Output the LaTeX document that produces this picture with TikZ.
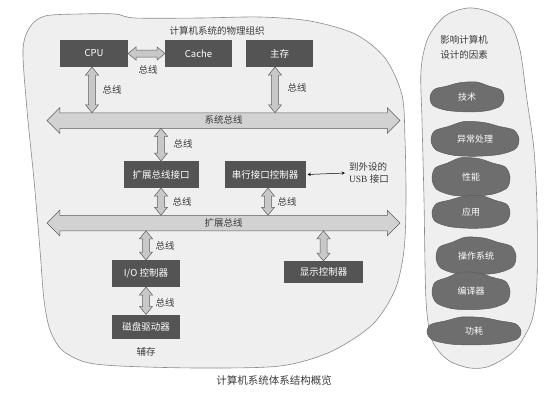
\documentclass[tikz,border=0pt]{standalone}
\usepackage{fontspec}
\setmainfont{Liberation Serif}
\setsansfont{Liberation Sans}
\newfontfamily\cjk{Noto Sans CJK SC}
\usetikzlibrary{calc,shapes.arrows}

\definecolor{boxgray}{HTML}{545454}
\definecolor{arrfill}{HTML}{C8C8C8}
\definecolor{arrline}{HTML}{5C5C5C}
\definecolor{busfill}{HTML}{D2D2D2}
\definecolor{blobfill}{HTML}{EFEFEF}
\definecolor{blobline}{HTML}{8A8A8A}
\definecolor{cloudgray}{HTML}{6E6E6E}
\definecolor{labgray}{HTML}{3A3A3A}

\tikzset{
  fat/.style={draw=arrline, fill=arrfill, line width=0.5pt,
    to path={
      -- ($(\tikztostart)!8pt!(\tikztotarget)!6.5pt!90:(\tikztotarget)$)
      -- ($(\tikztostart)!8pt!(\tikztotarget)!3.5pt!90:(\tikztotarget)$)
      -- ($(\tikztotarget)!8pt!(\tikztostart)!3.5pt!-90:(\tikztostart)$)
      -- ($(\tikztotarget)!8pt!(\tikztostart)!6.5pt!-90:(\tikztostart)$)
      -- (\tikztotarget)
      -- ($(\tikztotarget)!8pt!(\tikztostart)!6.5pt!90:(\tikztostart)$)
      -- ($(\tikztotarget)!8pt!(\tikztostart)!3.5pt!90:(\tikztostart)$)
      -- ($(\tikztostart)!8pt!(\tikztotarget)!3.5pt!-90:(\tikztotarget)$)
      -- ($(\tikztostart)!8pt!(\tikztotarget)!6.5pt!-90:(\tikztotarget)$)
      -- cycle}}
}

% a lumpy cloud: name, x, y, half width, half height, text
\newcommand\blobnode[6]{%
  \draw[cloudy] plot[smooth cycle] coordinates {
    ({#2+(-1)*(#4)},{#3+(0.1)*(#5)}) ({#2+(-0.92)*(#4)},{#3+(-0.45)*(#5)})
    ({#2+(-0.6)*(#4)},{#3+(-0.7)*(#5)}) ({#2+(-0.25)*(#4)},{#3+(-0.97)*(#5)})
    ({#2+(0.2)*(#4)},{#3+(-0.92)*(#5)}) ({#2+(0.55)*(#4)},{#3+(-0.7)*(#5)})
    ({#2+(0.88)*(#4)},{#3+(-0.5)*(#5)}) ({#2+(1)*(#4)},{#3})
    ({#2+(0.92)*(#4)},{#3+(0.55)*(#5)}) ({#2+(0.55)*(#4)},{#3+(0.86)*(#5)})
    ({#2},{#3+(0.96)*(#5)}) ({#2+(-0.5)*(#4)},{#3+(0.9)*(#5)})
    ({#2+(-0.88)*(#4)},{#3+(0.62)*(#5)})};
  \node[cloudtext] (#1) at (#2,#3) {#6};}

\begin{document}
\begin{tikzpicture}[x=1pt, y=-1pt,
  every node/.style={font=\cjk\fontsize{9.5}{11}\selectfont, inner sep=0pt, outer sep=0pt},
  unit/.style={fill=boxgray, text=white, minimum height=27pt},
  bus/.style={double arrow, double arrow head extend=5pt, draw=arrline, fill=busfill,
    line width=0.5pt, minimum height=353pt, text height=8pt, text depth=2pt,
    inner ysep=2.5pt, inner xsep=0pt, text=labgray},
  buslab/.style={text=labgray},
  blob/.style={draw=blobline, fill=blobfill, line width=0.6pt},
  cloudy/.style={fill=cloudgray, draw=arrline, line width=0.5pt},
  cloudtext/.style={text=white, font=\cjk\fontsize{9}{11}\selectfont}]
\useasboundingbox (0,0) rectangle (551,405);

% the two outlines
\draw[blob] plot[smooth cycle] coordinates {(23,50) (30,27) (45,16) (80,14) (115,14)
  (135,18) (200,18) (260,17) (310,21) (355,34) (385,58) (402,95) (405,140) (406,200)
  (404,250) (395,290) (372,325) (330,352) (280,366) (200,368) (120,366) (85,362)
  (62,350) (50,330) (44,300) (40,250) (34,180) (27,110)};
\draw[blob] plot[smooth cycle] coordinates {(421,70) (428,38) (445,16) (468,8) (490,12)
  (510,24) (520,50) (527,100) (534,150) (537,210) (537,280) (532,320) (515,350)
  (490,366) (470,368) (448,360) (432,340) (426,300) (424,200) (422,120)};

\node[text=labgray] (title) at (217,31) {计算机系统的物理组织};

% units
\node[unit, minimum width=68pt] (cpu) at (94,53.5) {CPU};
\node[unit, minimum width=67pt] (cache) at (198.5,53.5) {Cache};
\node[unit, minimum width=67pt] (mem) at (279.5,53.5) {主存};
\node[bus] (sysbus) at (223.5,120.5) {系统总线};
\node[unit, minimum width=75pt] (ebi) at (161,174.5) {扩展总线接口};
\node[unit, minimum width=81pt] (sic) at (265,174.5) {串行接口控制器};
\node[text=labgray, align=left, font=\fontsize{9.5}{12}\selectfont, anchor=west] (usb) at (349,173)
  {{\cjk 到外设的}\\USB {\cjk 接口}};
\node[bus] (extbus) at (223.5,223) {扩展总线};
\node[unit, minimum width=68pt] (io) at (146,273.5) {I/O 控制器};
\node[unit, minimum width=68pt, minimum height=24pt] (disk) at (146,326.5) {磁盘驱动器};
\node[text=labgray] (aux) at (146,352) {辅存};
\node[unit, minimum width=79pt, minimum height=22pt] (disp) at (323.5,272) {显示控制器};

% buses
\draw[fat] (cpu.east) to (cache.west);
\draw[fat] ([xshift=-2pt]cpu.south) to ([xshift=-2pt]cpu.south |- sysbus.north);
\draw[fat] ([xshift=-4.5pt]mem.south) to ([xshift=-4.5pt]mem.south |- sysbus.north);
\draw[fat] (ebi.north |- sysbus.south) to (ebi.north);
\draw[fat] (ebi.south) to (ebi.south |- extbus.north);
\draw[fat] ([xshift=3pt]sic.south) to ([xshift=3pt]sic.south |- extbus.north);
\draw[fat] (io.north |- extbus.south) to (io.north);
\draw[fat] (disp.north |- extbus.south) to (disp.north);
\draw[fat] (io.south) to (disk.north);
\draw[<->, >=stealth, line width=0.5pt] ([xshift=2pt]sic.east) -- ([xshift=-4pt]usb.west);

\node[buslab] (l1) at (148,70) {总线};
\node[buslab] (l2) at (112,90) {总线};
\node[buslab] (l3) at (297,88) {总线};
\node[buslab] (l4) at (183,144) {总线};
\node[buslab] (l5) at (182,202) {总线};
\node[buslab] (l6) at (287,202) {总线};
\node[buslab] (l7) at (165,246) {总线};
\node[buslab] (l8) at (165,303) {总线};

% factors
\node[text=labgray, align=center, font=\cjk\fontsize{9.5}{15}\selectfont] (fac) at (464,47.5)
  {影响计算机\\设计的因素};
\blobnode{tech}{467}{97}{-37}{15.5}{技术}
\blobnode{exc}{475}{139}{44}{18}{异常处理}
\blobnode{perf}{471}{177}{39}{20}{性能}
\blobnode{app}{471}{212}{-39}{17}{应用}
\blobnode{os}{476}{256}{40}{19.5}{操作系统}
\blobnode{comp}{471}{291}{39}{19.5}{编译器}
\blobnode{power}{474}{331}{47}{14.5}{功耗}

\node[text=labgray, font=\cjk\fontsize{10.5}{12}\selectfont] (cap) at (274,380) {计算机系统体系结构概览};
\end{tikzpicture}
\end{document}
